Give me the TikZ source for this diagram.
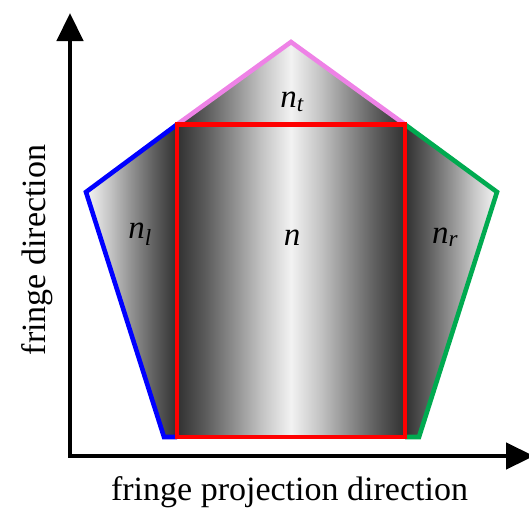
\documentclass[tikz,border=0pt]{standalone}
\usepackage{fontspec}
\setmainfont{Liberation Serif}
\usetikzlibrary{arrows.meta}
\definecolor{penblue}{RGB}{0,0,255}
\definecolor{penpink}{RGB}{238,130,230}
\definecolor{pengreen}{RGB}{0,170,80}
\definecolor{penred}{RGB}{255,0,0}
\pgfdeclarehorizontalshading{fringe}{100bp}{%
color(0bp)=(white!96!black);
color(25bp)=(white!96!black);
color(27.77bp)=(white!78!black);
color(30.53bp)=(white!57!black);
color(33.30bp)=(white!37!black);
color(36.07bp)=(white!19!black);
color(39.54bp)=(white!36!black);
color(43.00bp)=(white!56!black);
color(46.47bp)=(white!77!black);
color(49.94bp)=(white!95!black);
color(53.41bp)=(white!77!black);
color(56.88bp)=(white!56!black);
color(60.34bp)=(white!36!black);
color(63.81bp)=(white!19!black);
color(66.61bp)=(white!37!black);
color(69.41bp)=(white!57!black);
color(72.20bp)=(white!78!black);
color(75bp)=(white!96!black);
color(100bp)=(white!96!black)}
\begin{document}
\begin{tikzpicture}[x=1pt,y=-1pt,
  edge/.style={line width=4.6pt, line join=miter, line cap=butt},
  lbl/.style={font=\fontsize{33}{36}\selectfont\itshape, inner sep=0pt, anchor=base},
  axlbl/.style={font=\fontsize{34}{38}\selectfont, inner sep=0pt, anchor=base},
  axis/.style={line width=4.5pt, line join=miter, {Triangle[length=28pt,width=26pt]}-{Triangle[length=28pt,width=26pt]}}]
\useasboundingbox (0,0) rectangle (529,507);
\coordinate (A) at (291,42);
\coordinate (B) at (177,124.5);
\coordinate (C) at (86,192);
\coordinate (D) at (164,437);
\coordinate (E) at (419,437);
\coordinate (F) at (497,192);
\coordinate (G) at (405,124.5);
\coordinate (RBL) at (177,437);
\coordinate (RBR) at (405,437);
\shade[shading=fringe] (A) -- (F) -- (E) -- (D) -- (C) -- cycle;
\draw[edge, penblue] (RBL) -- (D) -- (C) -- (B);
\draw[edge, penpink] (B) -- (A) -- (G);
\draw[edge, pengreen] (G) -- (F) -- (E) -- (RBR);
\draw[edge, penred] (B) rectangle (RBR);
\coordinate (Ytip) at (70,13);
\coordinate (Xtip) at (534,456);
\draw[axis] (Ytip) |- (Xtip);
\node[lbl] (nt) at (292,107) {n\textsubscript{t}};
\node[lbl] (nl) at (140,238) {n\textsubscript{l}};
\node[lbl] (n) at (292,245) {n};
\node[lbl] (nr) at (445,243) {n\textsubscript{r}};
\node[axlbl] (xl) at (289.5,500) {fringe projection direction};
\node[axlbl, rotate=90] (yl) at (45,250) {fringe direction};
\end{tikzpicture}
\end{document}
